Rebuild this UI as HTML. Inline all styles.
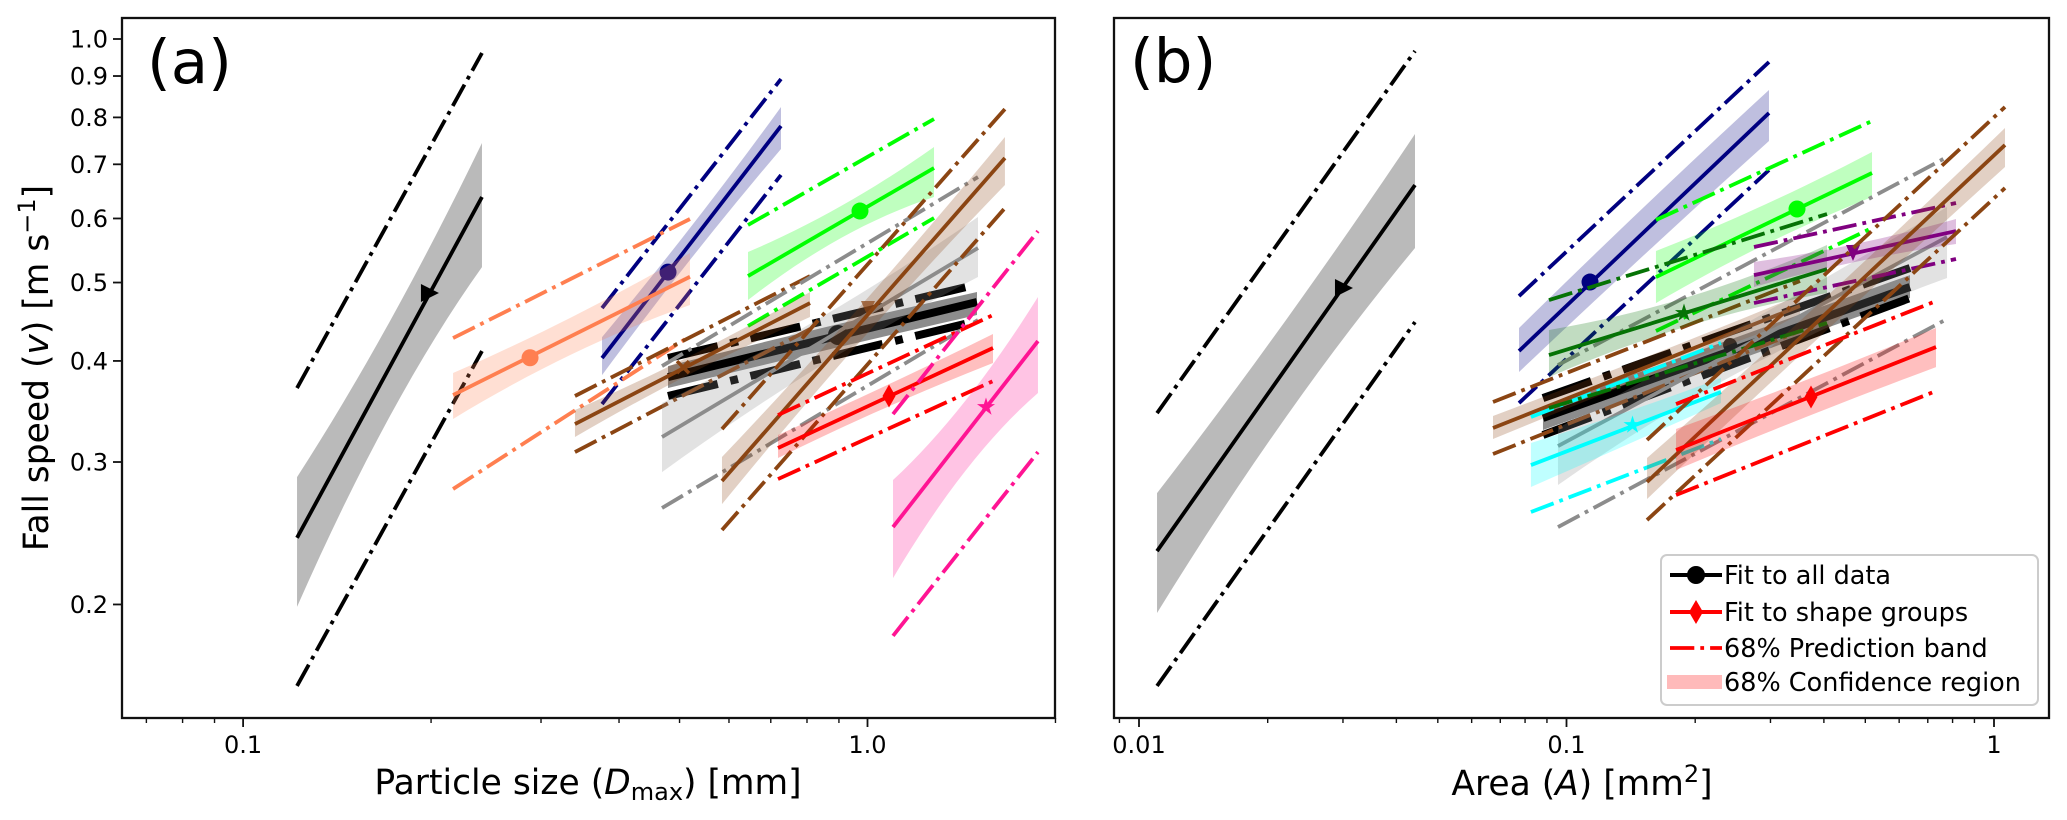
<!DOCTYPE html>
<html lang="en">
<head>
<meta charset="utf-8">
<title>Fall speed vs particle size and area</title>
<style>
html,body{margin:0;padding:0;background:#fff;}
svg{display:block;}
text{font-family:"DejaVu Sans","Liberation Sans",sans-serif;fill:#000;}
</style>
</head>
<body>
<svg id="chart" xmlns="http://www.w3.org/2000/svg" width="2067" height="820" viewBox="0 0 2067 820">
  <rect x="0" y="0" width="2067" height="820" fill="#fff"/>
  <g id="panelA"></g>
  <g id="panelB"></g>
  <rect x="122" y="18" width="933" height="700" fill="none" stroke="#111" stroke-width="2.3"/>
  <rect x="1114" y="18" width="935" height="700" fill="none" stroke="#111" stroke-width="2.3"/>
  <g id="axesA"></g>
  <g id="axesB"></g>
  <text x="147" y="83" font-size="61">(a)</text>
  <text x="1130" y="82" font-size="61">(b)</text>
  <text x="48" y="368" font-size="34.5" text-anchor="middle" transform="rotate(-90 48 368)">Fall speed (<tspan font-style="italic">v</tspan>) [m s<tspan dy="-13" font-size="24">−1</tspan><tspan dy="13">]</tspan></text>
  <text x="588" y="794" font-size="34.5" text-anchor="middle">Particle size (<tspan font-style="italic">D</tspan><tspan dy="6" font-size="24">max</tspan><tspan dy="-6">) [mm]</tspan></text>
  <text x="1582" y="795" font-size="34.5" text-anchor="middle">Area (<tspan font-style="italic">A</tspan>) [mm<tspan dy="-13" font-size="24">2</tspan><tspan dy="13">]</tspan></text>
  <g>
    <rect x="1661" y="555" width="377" height="150" rx="6" ry="6" fill="#fff" fill-opacity="0.85" stroke="#ccc" stroke-width="2"/>
    <g>
      <line x1="1670" y1="575" x2="1722" y2="575" stroke="#000" stroke-width="4"/>
      <circle cx="1696" cy="575" r="9" fill="#000"/>
      <text x="1724" y="584" font-size="25.5">Fit to all data</text>
    </g>
    <g>
      <line x1="1670" y1="612" x2="1722" y2="612" stroke="#f00" stroke-width="4"/>
      <polygon points="1696,600 1703,612 1696,624 1689,612" fill="#f00"/>
      <text x="1724" y="621" font-size="25.5">Fit to shape groups</text>
    </g>
    <g>
      <line x1="1670" y1="648" x2="1722" y2="648" stroke="#f00" stroke-width="3.8" stroke-dasharray="24.3 6 3.8 6"/>
      <text x="1724" y="657" font-size="25.5">68% Prediction band</text>
    </g>
    <g>
      <rect x="1667" y="675" width="55" height="14" fill="#f00" fill-opacity="0.27"/>
      <text x="1724" y="691" font-size="25.5">68% Confidence region</text>
    </g>
  </g>
</svg>
<script>
// ---------- Panel (a): particle size D_max [mm] vs fall speed [m/s] ----------
const aGroups = ["all-data","black","navy","coral","lime","brown-shallow","gray","brown-steep","red","pink"];
const aX = [[.4792,.8455,1.4975],[.1220,.1719,.2413],[.3757,.5196,.7269],[.2169,.3338,.5196],[.6436,.9069,1.278],[.3400,.5235,.8090],[.4687,.8393,1.503],[.5847,.9872,1.660],[.7189,1.0667,1.5885],[1.0986,1.438,1.875]];
const aFit = [[.3820,.4730],[.2418,.6378],[.4033,.7806],[.3630,.5083],[.5093,.6927],[.3342,.4716],[.3221,.5516],[.2842,.7126],[.3122,.4150],[.2493,.4233]];
const aCiHigh = [[.3942,.4393,.4867],[.2874,.4481,.7438],[.4281,.5839,.8240],[.3865,.4520,.5438],[.5454,.6216,.7353],[.3478,.4067,.4867],[.3548,.4520,.6025],[.3043,.4730,.7566],[.3240,.3724,.4318],[.2850,.3579,.4798]];
const aCiLow = [[.3703,.4114,.4558],[.1986,.3420,.5225],[.3842,.5331,.7312],[.3391,.4067,.4690],[.4757,.5675,.6378],[.3221,.3865,.4532],[.2915,.3942,.5079],[.2661,.4281,.6599],[.3034,.3498,.3976],[.2156,.2932,.3651]];
const aPiHigh = [[.4033,.4972],[.3703,.9609],[.4650,.8924],[.4269,.5991],[.5889,.7964],[.3620,.5093],[.3942,.6751],[.3295,.8193],[.3429,.4558],[.3438,.5789]];
const aPiLow = [[.3620,.4481],[.1586,.4114],[.3538,.6790],[.2778,.4293],[.4418,.6008],[.3086,.4380],[.2632,.4494],[.2472,.6181],[.2858,.3777],[.1829,.3086]];
const aMarkerX = [.8969,.1977,.4792,.2881,.9727,.5064,null,1.0018,1.0825,1.548];
const aMarkerV = [.4307,.4853,.5151,.4036,.6128,.3930,null,.4650,.3620,.3508];
const aColors = ["#000","#000","#000080","#ff7f50","#00ff00","#8b4513","#8c8c8c","#8b4513","#ff0000","#ff1493"];
const aShapes = ["circle","triright","circle","circle","circle","cross","none","tridown","diamond","star"];

// ---------- Panel (b): area A [mm^2] vs fall speed [m/s] ----------
const bGroups = ["all-data","black","navy","lime","brown-shallow","gray","cyan","dark-green","purple","brown-steep","red"];
const bX = [[.08810,.2361,.6361],[.01102,.02207,.04422],[.07743,.1518,.2976],[.1619,.2897,.5184],[.06731,.1535,.3517],[.09552,.2716,.7764],[.08257,.1378,.2298],[.09099,.1924,.4068],[.2745,.4730,.8149],[.1543,.4046,1.0610],[.1804,.3633,.7317]];
const bFit = [[.3400,.4937],[.2328,.6599],[.4114,.8100],[.5079,.6829],[.3305,.4677],[.3139,.5691],[.2974,.3661],[.4067,.5196],[.5107,.5789],[.2834,.7395],[.3104,.4161]];
const bCiHigh = [[.3508,.4233,.5107],[.2746,.4494,.7630],[.4393,.6199,.8649],[.5469,.6234,.7249],[.3420,.4044,.4825],[.3305,.4494,.6199],[.3167,.3458,.3810],[.4368,.4798,.5563],[.5301,.5579,.5991],[.3034,.4798,.7762],[.3295,.3788,.4393]];
const bCiLow = [[.3286,.3964,.4784],[.1952,.3410,.5516],[.3876,.5407,.7481],[.4716,.5563,.6378],[.3203,.3820,.4520],[.2810,.3953,.5065],[.2794,.3148,.3548],[.3820,.4418,.4853],[.4937,.5301,.5579],[.2700,.4356,.6947],[.2932,.3410,.3930]];
const bPiHigh = [[.3599,.5211],[.3448,.9664],[.4811,.9366],[.5974,.7918],[.3559,.5022],[.3953,.7147],[.3410,.4209],[.4757,.6076],[.5532,.6270],[.3194,.8240],[.3538,.4743]];
const bPiLow = [[.3240,.4784],[.1586,.4468],[.3548,.6888],[.4356,.5839],[.3069,.4356],[.2493,.4507],[.2602,.3203],[.3498,.4456],[.4716,.5346],[.2543,.6543],[.2731,.3672]];
const bMarkerX = [.2413,.02984,.1135,.3461,null,null,.1427,.1883,.4679,null,.3732];
const bMarkerV = [.4185,.4923,.5007,.6164,null,null,.3333,.4584,.5454,null,.3610];
const bColors = ["#000","#000","#000080","#00ff00","#8b4513","#8c8c8c","#00ffff","#067306","#800080","#8b4513","#ff0000"];
const bShapes = ["circle","triright","circle","circle","none","none","star","star","tridown","none","diamond"];

// ---------- Axis ticks ----------
const yTickValues = [0.2,0.3,0.4,0.5,0.6,0.7,0.8,0.9,1.0];
const yTickLabels = ["0.2","0.3","0.4","0.5","0.6","0.7","0.8","0.9","1.0"];
const aMajorTicks = [0.1,1.0];
const aMajorLabels = ["0.1","1.0"];
const aMinorTicks = [0.07,0.08,0.09,0.2,0.3,0.4,0.5,0.6,0.7,0.8,0.9,2.0];
const bMajorTicks = [0.01,0.1,1];
const bMajorLabels = ["0.01","0.1","1"];
const bMinorTicks = [0.009,0.02,0.03,0.04,0.05,0.06,0.07,0.08,0.09,0.2,0.3,0.4,0.5,0.6,0.7,0.8,0.9];

// ---------- Axis functions ----------
const AXIS_BOTTOM = 718;
const LINE_W = 3.8;
const BOLD_W = 8;
function yScale(v){ return 39 - 809 * Math.log10(v); }
function xScaleA(x){ return 867.5 + 624.4 * Math.log10(x); }
function xScaleB(x){ return 1994 + 427.5 * Math.log10(x); }

const NS = "http://www.w3.org/2000/svg";
function make(tag, parent, attrs){
  const el = document.createElementNS(NS, tag);
  for (const k in attrs) el.setAttribute(k, attrs[k]);
  parent.appendChild(el);
  return el;
}
function pts(list){ return list.map(function(p){ return p[0].toFixed(2) + "," + p[1].toFixed(2); }).join(" "); }

// Smooth band edge: quadratic curve in screen space through the three stored band values.
function bandEdge(X, V, xScale){
  const px = X.map(xScale);
  const py = V.map(yScale);
  const out = [];
  for (let s = 0; s <= 16; s++) {
    const x = px[0] + (px[2] - px[0]) * s / 16;
    const l0 = (x - px[1]) * (x - px[2]) / ((px[0] - px[1]) * (px[0] - px[2]));
    const l1 = (x - px[0]) * (x - px[2]) / ((px[1] - px[0]) * (px[1] - px[2]));
    const l2 = (x - px[0]) * (x - px[1]) / ((px[2] - px[0]) * (px[2] - px[1]));
    out.push([x, l0 * py[0] + l1 * py[1] + l2 * py[2]]);
  }
  return out;
}

function drawMarker(parent, shape, cx, cy, color, radius, name){
  let el = null;
  if (shape === "circle") {
    el = make("circle", parent, {cx:cx, cy:cy, r:radius, fill:color});
  } else if (shape === "triright") {
    el = make("polygon", parent, {points: pts([[cx-7,cy-9],[cx+11,cy],[cx-7,cy+9]]), fill:color});
  } else if (shape === "tridown") {
    el = make("polygon", parent, {points: pts([[cx-7,cy-7],[cx+7,cy-7],[cx,cy+9]]), fill:color, "fill-opacity": color === "#8b4513" ? 0.7 : 1});
  } else if (shape === "diamond") {
    el = make("polygon", parent, {points: pts([[cx,cy-11.5],[cx+6.5,cy],[cx,cy+11.5],[cx-6.5,cy]]), fill:color});
  } else if (shape === "star") {
    const s = [];
    for (let i = 0; i < 10; i++) {
      const r = i % 2 ? 3.6 : 9.5;
      const a = -Math.PI / 2 + i * Math.PI / 5;
      s.push([cx + r * Math.cos(a), cy + r * Math.sin(a)]);
    }
    el = make("polygon", parent, {points: pts(s), fill:color});
  } else if (shape === "cross") {
    el = make("path", parent, {d:"M"+(cx-6)+" "+(cy-6)+"L"+(cx+6)+" "+(cy+6)+"M"+(cx+6)+" "+(cy-6)+"L"+(cx-6)+" "+(cy+6), stroke:color, "stroke-width":3.4, fill:"none"});
  }
  if (el) {
    
    
  }
}

function drawPanel(root, panel, groups, xs, fit, hi, lo, pHi, pLo, mx, mv, colors, shapes, xScale, boldRadius){
  groups.forEach(function(group, i){
    const g = make("g", root, {});
    
    
    const bold = group === "all-data";
    const color = colors[i];
    const w = bold ? BOLD_W : LINE_W;
    const X = xs[i];
    const top = bandEdge(X, hi[i], xScale);
    const bot = bandEdge(X, lo[i], xScale).reverse();
    const band = make("polygon", g, {points: pts(top.concat(bot)), fill:color, "fill-opacity": bold ? 0.45 : (color === "#000" ? 0.27 : 0.25)});
    
    
    const x0 = xScale(X[0]);
    const x1 = xScale(X[X.length - 1]);
    const dash = (6.4*w).toFixed(2) + " " + (1.6*w).toFixed(2) + " " + w.toFixed(2) + " " + (1.6*w).toFixed(2);
    const up = make("line", g, {x1:x0, y1:yScale(pHi[i][0]), x2:x1, y2:yScale(pHi[i][1]), stroke:color, "stroke-width":w, "stroke-dasharray":dash});
    
    
    const dn = make("line", g, {x1:x0, y1:yScale(pLo[i][0]), x2:x1, y2:yScale(pLo[i][1]), stroke:color, "stroke-width":w, "stroke-dasharray":dash});
    
    
    const ln = make("line", g, {x1:x0, y1:yScale(fit[i][0]), x2:x1, y2:yScale(fit[i][1]), stroke:color, "stroke-width":w});
    
    
    if (mx[i] !== null) {
      drawMarker(g, shapes[i], xScale(mx[i]), yScale(mv[i]), color, bold ? boldRadius : 8.5, group + '-marker');
    }
  });
}

function drawXAxis(root, panel, majors, labels, minors, xScale){
  majors.forEach(function(v, i){
    const px = xScale(v);
    const t = make("line", root, {x1:px, y1:AXIS_BOTTOM, x2:px, y2:AXIS_BOTTOM+9, stroke:"#111", "stroke-width":1.8});
    
    
    const lab = make("text", root, {x:px, y:753, "font-size":24, "text-anchor":"middle"});
    lab.textContent = labels[i];
    
    
  });
  minors.forEach(function(v){
    const px = xScale(v);
    const t = make("line", root, {x1:px, y1:AXIS_BOTTOM, x2:px, y2:AXIS_BOTTOM+5, stroke:"#111", "stroke-width":1.4});
    
    
  });
}

function drawYAxis(root, values, labels){
  values.forEach(function(v, i){
    const py = yScale(v);
    const t = make("line", root, {x1:113, y1:py, x2:122, y2:py, stroke:"#111", "stroke-width":1.8});
    
    
    const lab = make("text", root, {x:108, y:py+8.6, "font-size":24, "text-anchor":"end"});
    lab.textContent = labels[i];
    
    
  });
}

drawPanel(document.getElementById("panelA"), "panel-a", aGroups, aX, aFit, aCiHigh, aCiLow, aPiHigh, aPiLow, aMarkerX, aMarkerV, aColors, aShapes, xScaleA, 10);
drawPanel(document.getElementById("panelB"), "panel-b", bGroups, bX, bFit, bCiHigh, bCiLow, bPiHigh, bPiLow, bMarkerX, bMarkerV, bColors, bShapes, xScaleB, 7);
drawXAxis(document.getElementById("axesA"), "panel-a", aMajorTicks, aMajorLabels, aMinorTicks, xScaleA);
drawXAxis(document.getElementById("axesB"), "panel-b", bMajorTicks, bMajorLabels, bMinorTicks, xScaleB);
drawYAxis(document.getElementById("axesA"), yTickValues, yTickLabels);
</script>
</body>
</html>
